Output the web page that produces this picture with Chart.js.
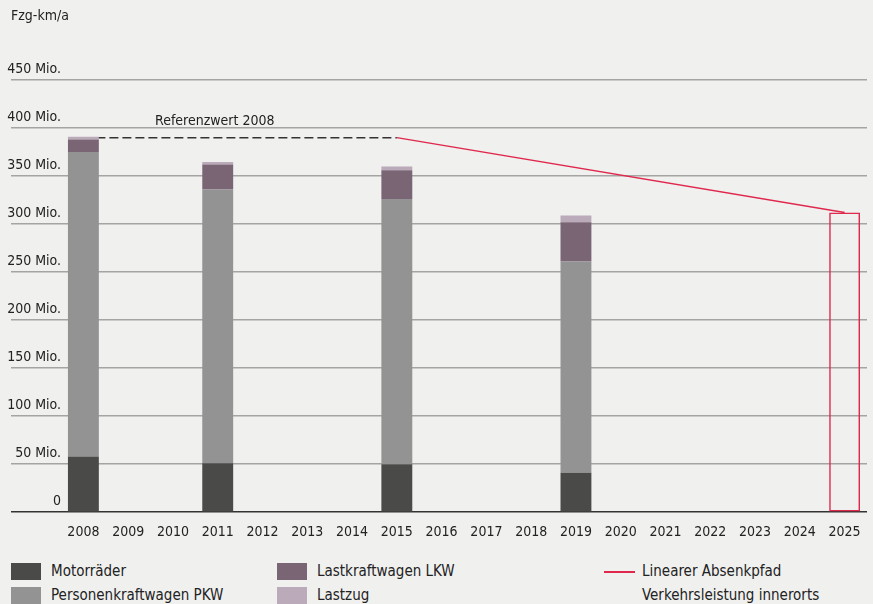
<!DOCTYPE html>
<html lang="de">
<head>
<meta charset="utf-8">
<title>Verkehrsleistung innerorts</title>
<script src="https://cdn.jsdelivr.net/npm/chart.js@4"></script>
<style>
  html, body { margin: 0; padding: 0; background: #f0f0ef; }
  body { width: 873px; height: 604px; position: relative; overflow: hidden;
         font-family: "DejaVu Sans Condensed", "Roboto", sans-serif; color: #222; }
  #wrap { position: absolute; left: 0; top: 0; width: 873px; height: 557px; }
  #unit { position: absolute; left: 11px; top: 7px; font-size: 14px; line-height: 17px; }
  #legend { position: absolute; left: 0; top: 560px; width: 873px; height: 44px; font-size: 15px; }
  .item { position: absolute; height: 18px; line-height: 18px; white-space: nowrap; }
  .swatch { position: absolute; left: 0; top: 1px; width: 30px; height: 17px; }
  .dash { position: absolute; left: 0; top: 9px; width: 31px; height: 1.5px; }
  .item span { position: absolute; left: 40px; top: 0; }
</style>
</head>
<body>
<div id="wrap"><canvas id="chart"></canvas></div>
<div id="unit"></div>
<div id="legend"></div>

<script>
// categories
const years = ["2008", "2009", "2010", "2011", "2012", "2013", "2014", "2015", "2016",
  "2017", "2018", "2019", "2020", "2021", "2022", "2023", "2024", "2025"];

// series, Mio. Fzg-km/a
const motorraeder = [58, null, null, 51, null, null, null, 50, null, null, null, 41, null, null, null, null, null, null];
const pkw         = [317, null, null, 285, null, null, null, 276, null, null, null, 220, null, null, null, null, null, null];
const lkw         = [13, null, null, 26, null, null, null, 30, null, null, null, 41, null, null, null, null, null, null];
const lastzug     = [3, null, null, 2.5, null, null, null, 4, null, null, null, 7, null, null, null, null, null, null];

// reference value 2008 and linear path down to the 2025 target
const referenzwert = [390, null, null, null, null, null, null, 390, null, null, null, null, null, null, null, null, null, null];
const absenkpfad   = [null, null, null, null, null, null, null, 390, null, null, null, null, null, null, null, null, null, 312];
const zielwert     = [null, null, null, null, null, null, null, null, null, null, null, null, null, null, null, null, null, 312];

// y ticks
const yMin = 0;
const yMax = 450;
const yStep = 50;

const refLabel = "Referenzwert 2008";
const unitLabel = "Fzg-km/a";

const FONT = "'DejaVu Sans Condensed', Roboto, sans-serif";
const RED = "#e0274c";

document.getElementById("unit").textContent = unitLabel;

// text above the dashed reference line
const refLabelPlugin = {
  id: "refLabel",
  afterDatasetsDraw(chart) {
    const x = chart.scales.x;
    const y = chart.scales.y;
    const x0 = x.getPixelForValue(0);
    const x1 = x.getPixelForValue(1);
    const ctx = chart.ctx;
    ctx.save();
    ctx.font = "14px " + FONT;
    ctx.fillStyle = "#222";
    ctx.textAlign = "left";
    ctx.textBaseline = "alphabetic";
    ctx.fillText(refLabel, x0 + (x1 - x0) * 1.6, y.getPixelForValue(referenzwert[0]) - 13);
    ctx.restore();
  }
};

const lineColor = (c) => (c.tick && c.tick.value === 0 ? "#333" : "#a4a4a4");

const chart = new Chart(document.getElementById("chart"), {
  type: "bar",
  data: {
    labels: years,
    datasets: [
      { label: "Motorräder", data: motorraeder, backgroundColor: "#4a4a48", order: 0 },
      { label: "Personenkraftwagen PKW", data: pkw, backgroundColor: "#939393", order: 0 },
      { label: "Lastkraftwagen LKW", data: lkw, backgroundColor: "#7a6575", order: 0 },
      { label: "Lastzug", data: lastzug, backgroundColor: "#baaaba", order: 0 },
      {
        label: "Verkehrsleistung innerorts", data: zielwert,
        backgroundColor: "rgba(0,0,0,0)", borderColor: RED, borderWidth: 1.5,
        borderSkipped: false, order: 0
      },
      {
        type: "line", label: "Referenzwert 2008", data: referenzwert, stack: "ref",
        borderColor: "#333", borderWidth: 1.5, borderDash: [9, 4],
        pointRadius: 0, spanGaps: true, order: 1
      },
      {
        type: "line", label: "Linearer Absenkpfad", data: absenkpfad, stack: "pfad",
        borderColor: RED, borderWidth: 1.5,
        pointRadius: 0, spanGaps: true, order: 1
      }
    ]
  },
  options: {
    responsive: true,
    maintainAspectRatio: false,
    animation: false,
    layout: { padding: { left: 0, right: 6, top: 80, bottom: 4 } },
    datasets: {
      bar: { categoryPercentage: 1, barPercentage: 0.69 }
    },
    plugins: {
      legend: { display: false },
      tooltip: { enabled: false },
      title: { display: false }
    },
    scales: {
      x: {
        stacked: true,
        grid: { display: false, drawTicks: false },
        border: { display: false },
        ticks: {
          color: "#222",
          padding: 12,
          maxRotation: 0,
          autoSkip: false,
          font: { family: FONT, size: 14 }
        }
      },
      y: {
        stacked: true,
        min: yMin,
        max: yMax,
        afterFit(scale) { scale.width = 61; },
        border: { display: false },
        grid: {
          color: lineColor,
          tickColor: lineColor,
          lineWidth: 1.5,
          tickLength: 50,
          drawTicks: true
        },
        ticks: {
          stepSize: yStep,
          padding: -50,
          labelOffset: -11,
          color: "#222",
          font: { family: FONT, size: 14 },
          callback: (v) => (v === 0 ? "0" : v + " Mio.")
        }
      }
    }
  },
  plugins: [refLabelPlugin]
});

// legend in three columns under the chart
const legendItems = [
  { ds: 0, kind: "box", left: 11, top: 2 },
  { ds: 1, kind: "box", left: 11, top: 26 },
  { ds: 2, kind: "box", left: 277, top: 2 },
  { ds: 3, kind: "box", left: 277, top: 26 },
  { ds: 6, kind: "line", left: 604, top: 2 },
  { ds: 4, kind: "none", left: 604, top: 26 }
];

const legend = document.getElementById("legend");
legendItems.forEach(it => {
  const ds = chart.data.datasets[it.ds];
  let mark = "";
  if (it.kind === "box") mark = `<div class="swatch" style="background:${ds.backgroundColor}"></div>`;
  if (it.kind === "line") mark = `<div class="dash" style="background:${ds.borderColor}"></div>`;
  legend.innerHTML += `<div class="item" style="left:${it.left}px;top:${it.top}px">${mark}<span style="left:${it.kind === "box" ? 40 : 38}px">${ds.label}</span></div>`;
});
</script>
</body>
</html>
